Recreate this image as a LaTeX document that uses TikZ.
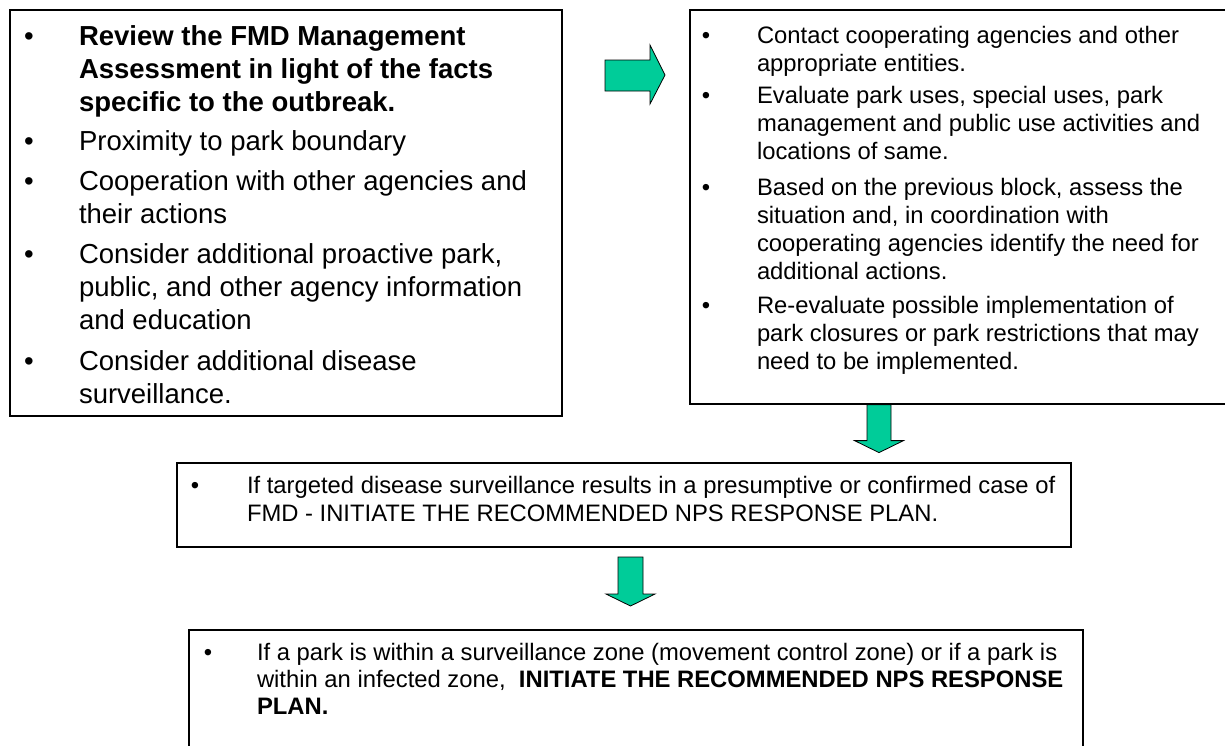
\documentclass[tikz,border=0pt]{standalone}
\usepackage{fontspec}
\setmainfont{Liberation Sans}
\definecolor{arrowgreen}{HTML}{00CC99}
\begin{document}
\begin{tikzpicture}[x=1pt,y=-1pt,
  box/.style={draw=black, line width=1.6pt, rectangle, anchor=north west, inner sep=0pt},
  bigfont/.style={font=\fontsize{27.5}{33}\selectfont},
  smallfont/.style={font=\fontsize{23.8}{28.3}\selectfont},
  itemtext/.style={anchor=base west, inner sep=0pt, outer sep=0pt},
  dot/.style={anchor=base, inner sep=0pt, outer sep=0pt},
  blockarrow/.style={draw=black, line width=0.8pt, fill=arrowgreen, line join=miter},
]
\fill[white] (0,0) rectangle (1225,745);
\useasboundingbox (0,0) rectangle (1225,745);
\clip (0,0) rectangle (1225,745);

% boxes
\node[box, minimum width=552pt, minimum height=406pt] (b1) at (9,9) {};
\node[box, minimum width=543pt, minimum height=394pt] (b2) at (689,9) {};
\node[box, minimum width=894pt, minimum height=84pt] (b3) at (176,462) {};
\node[box, minimum width=894pt, minimum height=130pt] (b4) at (188,629) {};

% first box
\begin{scope}[bigfont]
\node[dot] (d1a) at (29,45) {•};
\node[itemtext] (t1a) at (79,45) {\parbox[t]{480pt}{\bfseries Review the FMD Management\\Assessment in light of the facts\\specific to the outbreak.}};
\node[dot] (d1b) at (29,150) {•};
\node[itemtext] (t1b) at (79,150) {Proximity to park boundary};
\node[dot] (d1c) at (29,190) {•};
\node[itemtext] (t1c) at (79,190) {\parbox[t]{480pt}{Cooperation with other agencies and\\their actions}};
\node[dot] (d1d) at (29,263) {•};
\node[itemtext] (t1d) at (79,263) {\parbox[t]{480pt}{Consider additional proactive park,\\public, and other agency information\\and education}};
\node[dot] (d1e) at (29,370) {•};
\node[itemtext] (t1e) at (79,370) {\parbox[t]{480pt}{Consider additional disease\\surveillance.}};
\end{scope}

% second box
\begin{scope}[smallfont]
\node[dot] (d2a) at (706,43) {•};
\node[itemtext] (t2a) at (757,43) {\parbox[t]{460pt}{Contact cooperating agencies and other\\appropriate entities.}};
\node[dot] (d2b) at (706,103) {•};
\node[itemtext] (t2b) at (757,103) {\parbox[t]{460pt}{Evaluate park uses, special uses, park\\management and public use activities and\\locations of same.}};
\node[dot] (d2c) at (706,195) {•};
\node[itemtext] (t2c) at (757,195) {\parbox[t]{460pt}{Based on the previous block, assess the\\situation and, in coordination with\\cooperating agencies identify the need for\\additional actions.}};
\node[dot] (d2d) at (706,313) {•};
\node[itemtext] (t2d) at (757,313) {\parbox[t]{460pt}{Re-evaluate possible implementation of\\park closures or park restrictions that may\\need to be implemented.}};

% third box
\node[dot] (d3) at (195,493) {•};
\node[itemtext] (t3) at (247,493) {\parbox[t]{820pt}{If targeted disease surveillance results in a presumptive or confirmed case of\\FMD - INITIATE THE RECOMMENDED NPS RESPONSE PLAN.}};
\end{scope}

% fourth box
\begin{scope}[font=\fontsize{23.8}{27}\selectfont]
\node[dot] (d4) at (208,660) {•};
\node[itemtext] (t4) at (257,660) {\parbox[t]{820pt}{If a park is within a surveillance zone (movement control zone) or if a park is\\within an infected zone,\ \ \textbf{INITIATE THE RECOMMENDED NPS RESPONSE}\\\textbf{PLAN.}}};
\end{scope}

% block arrows
\coordinate (ra) at (605,60);
\draw[blockarrow] (ra) -- ++(45,0) -- ++(0,-15) -- ++(15,30) -- ++(-15,29) -- ++(0,-13) -- ++(-45,0) -- cycle;

\coordinate (da) at (b2.south west -| 867,0);
\draw[blockarrow] (da) -- ++(24,0) -- ++(0,36) -- ++(12.5,0) -- ++(-24.5,12) -- ++(-24.5,-12) -- ++(12.5,0) -- cycle;

\coordinate (db) at (618,557);
\draw[blockarrow] (db) -- ++(25,0) -- ++(0,37) -- ++(12,0) -- ++(-24.5,12) -- ++(-24.5,-12) -- ++(12,0) -- cycle;
\end{tikzpicture}
\end{document}
